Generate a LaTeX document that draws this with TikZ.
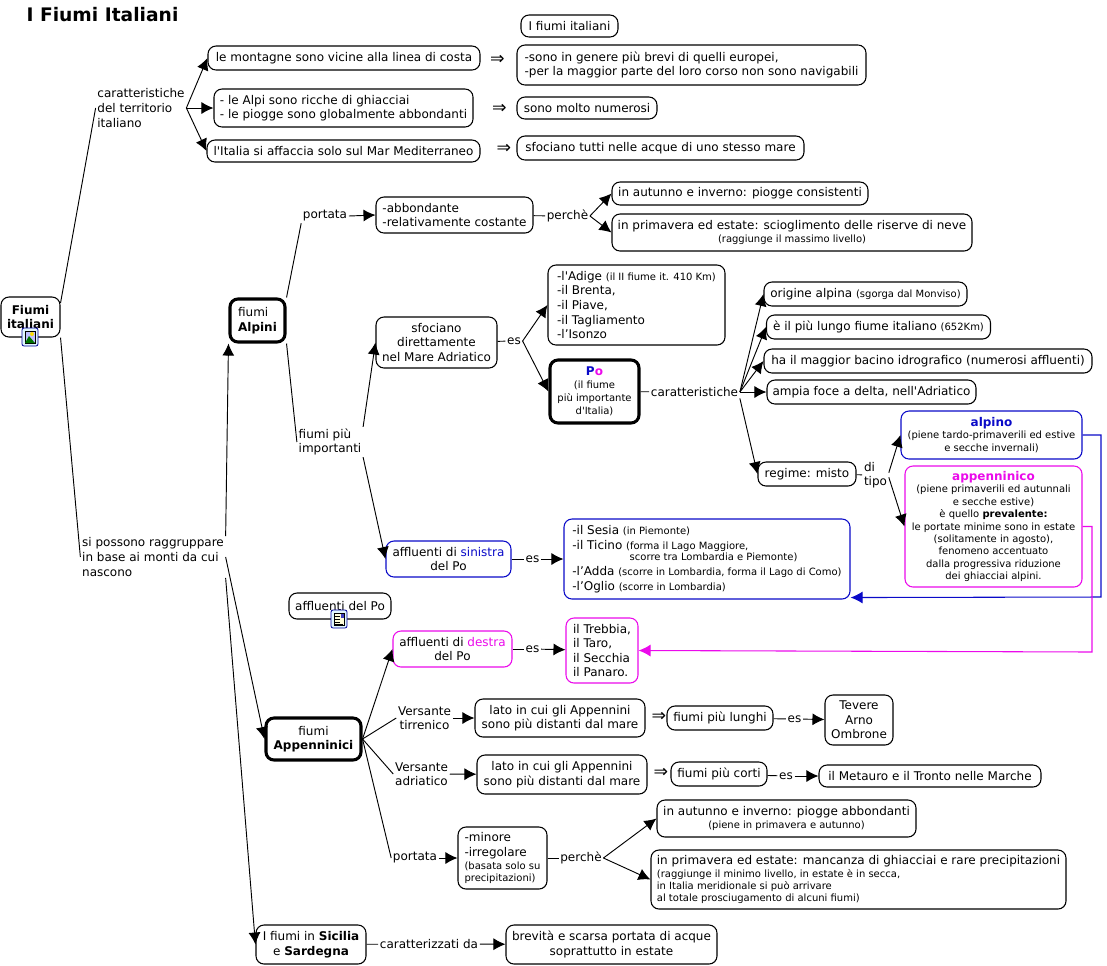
\documentclass[tikz,border=0pt]{standalone}
\usepackage{fontspec}
\setmainfont{DejaVu Sans}
\usetikzlibrary{arrows.meta}
\definecolor{alpblue}{RGB}{10,10,200}
\definecolor{appmag}{RGB}{235,10,235}
\newcommand\sm[1]{{\fontsize{7.5}{9.6}\selectfont #1}}
\tikzset{
  sz/.style 2 args={minimum width=#1*.75pt,minimum height=#2*.75pt},
  conc/.style={draw,rounded corners=6pt,line width=.8pt,fill=white,inner sep=1pt,align=center},
  fat/.style={conc,line width=2.3pt},
  alp/.style={conc,draw=alpblue},
  app/.style={conc,draw=appmag},
  lab/.style={inner sep=1pt,align=center},
  imp/.style={inner sep=0pt,font=\fontsize{13}{14}\selectfont},
  photoicon/.pic={
    \draw[blue!60!black,fill=cyan!12,rounded corners=1.5pt,line width=.6pt](-8,-9) rectangle (8,9);
    \fill[blue!25!white,draw=black,line width=.3pt](-5,-6) rectangle (5,6);
    \fill[green!45!black](-5,6)--(-1,-1)--(5,6)--cycle;
    \fill[yellow!80!orange](2,-3) circle (2);
  },
  docicon/.pic={
    \draw[blue!60!black,fill=cyan!12,rounded corners=1.5pt,line width=.6pt](-8,-9) rectangle (8,9);
    \fill[yellow!15!white,draw=black,line width=.3pt](-5,-6) rectangle (5,6);
    \foreach \y in {-3,0,3}\draw[line width=.5pt](-4,\y)--(1,\y);
    \draw[line width=.5pt](-4,5)--(4,5);
    \fill[blue!50!gray](1.5,-5) rectangle (4.5,-1);
  }
}
\begin{document}
\begin{tikzpicture}[>={Latex[length=9pt,width=9pt]},x=.75pt,y=-.75pt,line width=.7pt,font=\fontsize{9}{10.9}\selectfont]
\useasboundingbox (0,0) rectangle (1107,965);

\node at (102.5,15) [inner sep=0pt,font=\fontsize{14}{16}\bfseries\selectfont] (title) {I Fiumi Italiani};

% nodi
\node at (30.5,317) [conc,sz={59}{40}] (fiumi) {\textbf{Fiumi}\\\textbf{italiani}};
\node at (141,108) [lab,align=left] (terr) {caratteristiche\\del territorio\\italiano};
\node at (153,557) [lab,align=left] (raggr) {si possono raggruppare\\in base ai monti da cui\\nascono};
\node at (257.5,320.5) [fat,sz={55}{43},align=left] (alpini) {fiumi\\\textbf{Alpini}};
\node at (313.5,739) [fat,sz={95}{42}] (appen) {fiumi\\\textbf{Appenninici}};
\node at (311,944.5) [conc,sz={110}{39}] (isole) {I fiumi in \textbf{Sicilia}\\e \textbf{Sardegna}};

% territorio
\node at (344,58) [conc,sz={272}{24}] (mont) {le montagne sono vicine alla linea di costa};
\node at (343.5,108) [conc,sz={259}{38},align=left] (ghiac) {- le Alpi sono ricche di ghiacciai\\- le piogge sono globalmente abbondanti};
\node at (343.5,151) [conc,sz={273}{22}] (mare) {l\textquotesingle Italia si affaccia solo sul Mar Mediterraneo};
\node at (497.5,60) [imp] (impa) {⇒};
\node at (499.5,109) [imp] (impb) {⇒};
\node at (504,149) [imp] (impc) {⇒};
\node at (569.5,26) [conc,sz={97}{22}] (ifiumi) {I fiumi italiani};
\node at (691.5,65) [conc,sz={349}{40},align=left] (brevi) {-sono in genere più brevi di quelli europei,\\-per la maggior parte del loro corso non sono navigabili};
\node at (587,108) [conc,sz={140}{22}] (numer) {sono molto numerosi};
\node at (660.5,148) [conc,sz={287}{24}] (stesso) {sfociano tutti nelle acque di uno stesso mare};

% alpini
\node at (325,216) [lab] (portA) {portata};
\node at (454.5,215) [conc,sz={157}{36},align=left] (abbon) {-abbondante\\-relativamente costante};
\node at (567.5,216) [lab] (percA) {perchè};
\node at (740,193.5) [conc,sz={256}{23}] (piogA) {in autunno e inverno: piogge consistenti};
\node at (792,232.5) [conc,sz={360}{37}] (nevi) {in primavera ed estate: scioglimento delle riserve di neve\\[-1pt]\sm{(raggiunge il massimo livello)}};
\node at (330,442) [lab,align=left] (piuimp) {fiumi più\\importanti};
\node at (436.5,342.5) [conc,sz={121}{51}] (sfoc) {sfociano\\direttamente\\nel Mare Adriatico};
\node at (514,341) [lab] (esA) {es};
\node at (636.5,305) [conc,sz={177}{80},align=left] (adige) {-l\textquotesingle Adige \sm{(il II fiume it. 410 Km)}\\-il Brenta,\\-il Piave,\\-il Tagliamento\\-l’Isonzo};
\node at (594.5,391.5) [fat,sz={89}{63},font=\fontsize{7.5}{9.8}\selectfont] (po) {{\fontsize{9}{10.9}\bfseries\selectfont\textcolor{alpblue}{P}\textcolor{appmag}{o}}\\(il fiume\\più importante\\d\textquotesingle Italia)};
\node at (694.5,392) [lab] (caraPo) {caratteristiche};
\node at (865.5,294) [conc,sz={203}{24}] (orig) {origine alpina \sm{(sgorga dal Monviso)}};
\node at (878.5,327) [conc,sz={224}{24}] (lungo) {è il più lungo fiume italiano \sm{(652Km)}};
\node at (928,361) [conc,sz={328}{24}] (bacino) {ha il maggior bacino idrografico (numerosi affluenti)};
\node at (871.5,392) [conc,sz={209}{24}] (foce) {ampia foce a delta, nell\textquotesingle Adriatico};
\node at (807,474) [conc,sz={98}{24}] (regime) {regime: misto};
\node at (875.5,475) [lab,align=left] (ditipo) {di\\tipo};
\node at (991.5,435) [alp,sz={181}{48},font=\fontsize{7.5}{9.6}\selectfont] (alpino) {{\fontsize{9}{10.9}\bfseries\selectfont\textcolor{alpblue}{alpino}}\\(piene tardo-primaverili ed estive\\e secche invernali)};
\node at (993.5,526.5) [app,sz={177}{121},font=\fontsize{7.5}{9.35}\selectfont] (appino) {{\fontsize{9}{10.9}\bfseries\selectfont\textcolor{appmag}{appenninico}}\\(piene primaverili ed autunnali\\e secche estive)\\è quello \textbf{prevalente:}\\le portate minime sono in estate\\(solitamente in agosto),\\fenomeno accentuato\\dalla progressiva riduzione\\dei ghiacciai alpini.};
\node at (448.5,559) [alp,sz={125}{36}] (sinis) {affluenti di \textcolor{alpblue}{sinistra}\\del Po};
\node at (532.5,559) [lab] (esB) {es};
\node at (707,559) [alp,sz={286}{80},align=left] (sesia) {-il Sesia \sm{(in Piemonte)}\\-il Ticino \sm{(forma il Lago Maggiore,}\\[-2pt]\hspace*{43pt}\sm{scorre tra Lombardia e Piemonte)}\\-l’Adda \sm{(scorre in Lombardia, forma il Lago di Como)}\\-l’Oglio \sm{(scorre in Lombardia)}};
\coordinate (svoltaA) at (1101,597);
\coordinate (svoltaB) at (1092,652);

% appenninici
\node at (340,606) [conc,sz={102}{26}] (delpo) {affluenti del Po};
\node at (452.5,649) [app,sz={119}{36}] (destr) {affluenti di \textcolor{appmag}{destra}\\del Po};
\node at (532.5,649) [lab] (esC) {es};
\node at (602,650.5) [app,sz={72}{65},align=left] (trebb) {il Trebbia,\\il Taro,\\il Secchia\\il Panaro.};
\node at (424.5,718) [lab] (tirr) {Versante\\tirrenico};
\node at (560,718) [conc,sz={170}{38}] (latoA) {lato in cui gli Appennini\\sono più distanti dal mare};
\node at (659,717) [imp] (impd) {⇒};
\node at (720,718) [conc,sz={106}{24}] (lunghi) {fiumi più lunghi};
\node at (794.5,719) [lab] (esD) {es};
\node at (859,720) [conc,sz={68}{50}] (tev) {Tevere\\Arno\\Ombrone};
\node at (421.5,774) [lab] (adri) {Versante\\adriatico};
\node at (562,774.5) [conc,sz={170}{39}] (latoB) {lato in cui gli Appennini\\sono più distanti dal mare};
\node at (661,773) [imp] (impe) {⇒};
\node at (719,774) [conc,sz={96}{24}] (corti) {fiumi più corti};
\node at (786,776) [lab] (esE) {es};
\node at (930,776) [conc,sz={222}{22}] (metau) {il Metauro e il Tronto nelle Marche};
\node at (415,858) [lab] (portB) {portata};
\node at (502.5,858) [conc,sz={89}{62},align=left] (minore) {-minore\\-irregolare\\[-1pt]\sm{(basata solo su}\\[-2pt]\sm{precipitazioni)}};
\node at (581,858) [lab] (percB) {perchè};
\node at (786.5,818.5) [conc,sz={259}{37}] (piogB) {in autunno e inverno: piogge abbondanti\\[-1pt]\sm{(piene in primavera e autunno)}};
\node at (858.5,879.5) [conc,sz={415}{59},align=left] (ghiacB) {in primavera ed estate: mancanza di ghiacciai e rare precipitazioni\\[-1pt]\sm{(raggiunge il minimo livello, in estate è in secca,}\\[-2pt]\sm{in Italia meridionale si può arrivare}\\[-2pt]\sm{al totale prosciugamento di alcuni fiumi)}};
\node at (429,944) [lab] (caraz) {caratterizzati da};
\node at (611.5,944.5) [conc,sz={211}{39}] (brev) {brevità e scarsa portata di acque\\soprattutto in estate};

% collegamenti
\draw (fiumi.25)--(terr.west);
\draw (fiumi.south east)--(raggr.west);
\draw[->] (terr.east)--(mont.west);
\draw[->] (terr.east)--(ghiac.west);
\draw[->] (terr.east)--(mare.west);
\draw[->] (raggr.north east)--(alpini.south west);
\draw[->] (raggr.east)--(appen.west);
\draw[->] (raggr.south east)--(isole.west);
\draw (alpini.north east)--(portA.south west);
\draw (alpini.south east)--(piuimp.west);
\draw[->] (portA.east)--(abbon.west);
\draw (abbon)--(percA);
\draw[->] (percA.east)--(piogA.west);
\draw[->] (percA.east)--(nevi.west);
\draw[->] (piuimp.north east)--(sfoc.west);
\draw[->] (piuimp.south east)--(sinis.west);
\draw (sfoc)--(esA);
\draw[->] (esA.east)--(adige.west);
\draw[->] (esA.east)--(po.west);
\draw (po)--(caraPo);
\draw[->] (caraPo.east)--(orig.west);
\draw[->] (caraPo.east)--(lungo.west);
\draw[->] (caraPo.east)--(bacino.west);
\draw[->] (caraPo.east)--(foce.west);
\draw[->] (caraPo.south east)--(regime.west);
\draw (regime)--(ditipo);
\draw[->] (ditipo.10)--(alpino.west);
\draw[->] (ditipo.-10)--(appino.west);
\draw (sinis)--(esB);
\draw[->] (esB)--(sesia);
\draw[alpblue,line width=.8pt,->] (alpino.east)-|(svoltaA)--([yshift=1.5pt]sesia.south east);
\draw[appmag,line width=.8pt,->] (appino.east)-|(svoltaB)--(trebb.east);
\draw[->] (appen.east)--(destr.west);
\draw (appen.east)--(tirr.west);
\draw (appen.east)--(adri.west);
\draw (appen.east)--(portB.west);
\draw (destr)--(esC);
\draw[->] (esC)--(trebb);
\draw[->] (tirr)--(latoA);
\draw[->] (adri)--(latoB);
\draw (lunghi)--(esD);
\draw[->] (esD)--(tev);
\draw (corti)--(esE);
\draw[->] (esE)--(metau);
\draw[->] (portB)--(minore);
\draw (minore)--(percB);
\draw[->] (percB.east)--(piogB.west);
\draw[->] (percB.east)--(ghiacB.west);
\draw (isole)--(caraz);
\draw[->] (caraz)--(brev);

% icone
\pic at (30,337) {photoicon};
\pic at (339,619) {docicon};
\end{tikzpicture}
\end{document}
